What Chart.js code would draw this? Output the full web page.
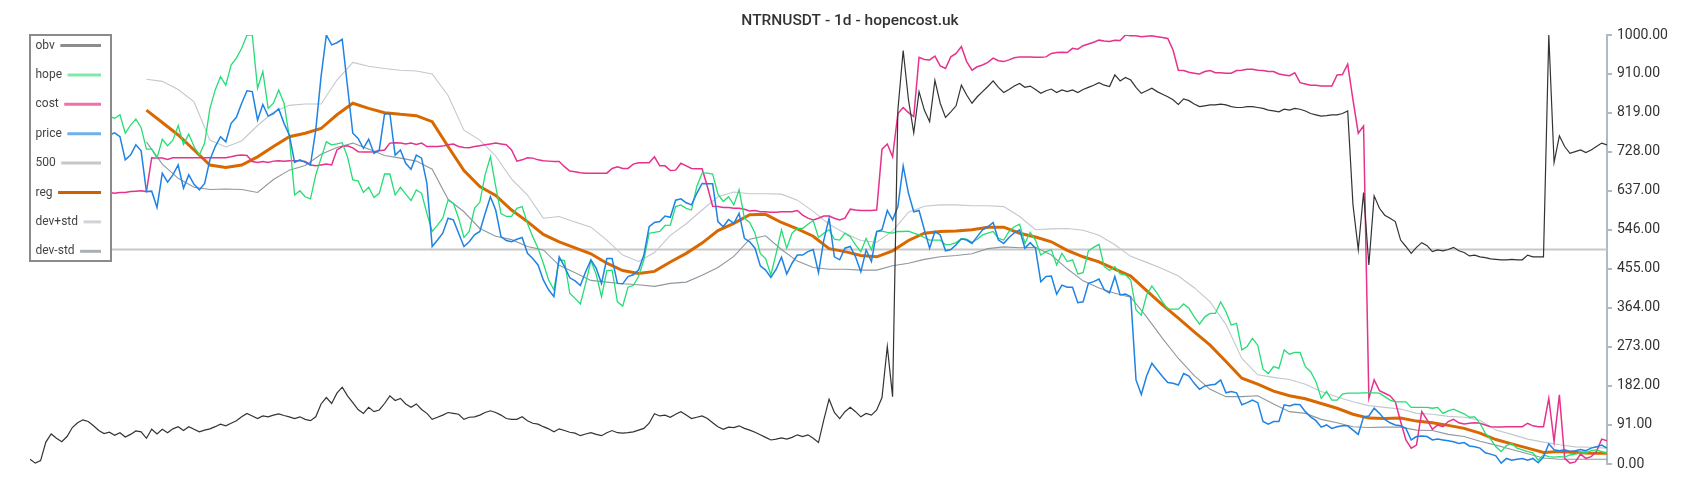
<!DOCTYPE html>
<html>
<head>
<meta charset="utf-8">
<title>NTRNUSDT - 1d</title>
<script src="https://cdn.jsdelivr.net/npm/chart.js@4.4.0/dist/chart.umd.min.js"></script>
<style>
  html, body { margin: 0; padding: 0; background: #ffffff; }
  #wrap { width: 1700px; height: 500px; }
</style>
</head>
<body>
<div id="wrap"><canvas id="mainChart" width="1700" height="500"></canvas></div>
<script>
// Daily values, one entry per day (index = day)
const obv = [
  11,2,8,51,70,60,52,64,85,96,103,99,89,78,71,74,67,73,63,69,77,75,60,81,70,81,73,82,87,78,87,81,75,79,82,87,93,
  89,95,101,110,118,112,106,112,110,114,117,113,110,106,110,104,101,110,140,155,141,165,179,159,143,127,118,132,122,126,141,159,148,153,140,132,140,
  127,118,104,109,114,120,118,116,104,109,110,114,120,124,120,114,106,104,104,110,101,95,93,87,82,75,82,78,74,72,66,70,73,69,66,73,78,73,
  72,73,75,79,83,95,117,112,114,109,116,122,114,106,109,112,106,96,87,81,86,85,89,83,79,74,68,62,56,58,61,58,62,68,
  64,68,60,50,103,151,120,106,122,132,122,110,118,114,126,155,274,157,825,964,849,772,868,825,798,894,841,808,821,835,883,860,841,856,868,880,893,878,866,873,881,887,
  878,881,873,864,870,874,866,872,868,872,866,873,878,883,889,883,880,907,893,901,895,878,864,870,876,868,862,856,849,838,851,847,839,833,835,837,837,839,
  837,833,831,831,833,833,831,829,825,823,821,827,825,829,827,823,817,814,811,812,814,814,817,823,604,500,633,464,625,596,580,573,565,522,507,491,505,516,
  509,495,499,497,500,505,497,493,485,487,483,481,478,477,476,476,477,476,476,487,483,483,483,1000,703,765,740,724,728,732,726,732,740,748,744
];

const hope = [
  null,null,null,null,null,null,null,null,null,null,null,null,null,null,null,
  810,806,814,771,790,804,784,734,734,713,757,742,755,789,745,769,740,720,748,829,872,903,
  883,930,946,969,1000,1000,876,915,829,841,872,841,763,627,637,623,618,674,713,751,744,746,749,716,662,660,633,645,621,631,676,676,627,645,629,614,639,
  631,584,542,557,573,615,608,573,528,542,596,610,674,716,647,584,577,577,596,600,561,530,503,468,429,406,476,474,398,386,373,421,474,441,390,451,452,378,
  368,412,416,437,476,538,540,542,556,557,600,604,596,592,647,678,678,676,629,612,623,604,639,573,563,538,491,479,441,491,546,503,538,549,
  549,559,567,528,538,546,524,522,538,530,511,495,526,499,542,543,540,538,542,542,543,538,534,528,522,522,522,511,512,516,525,524,517,524,534,538,542,526,522,542,553,559,
  514,540,522,487,495,500,464,491,472,476,443,446,497,505,512,460,451,460,443,441,429,359,347,394,415,398,378,361,361,361,373,363,343,326,343,351,351,378,
  355,324,328,266,274,293,277,221,211,227,223,266,256,260,260,227,215,192,153,169,149,149,163,165,165,165,166,166,166,165,157,149,145,145,145,132,132,132,
  132,130,132,118,124,128,122,117,109,110,95,72,58,40,29,43,48,37,33,29,26,9,21,17,16,17,16,21,23,26,26,31,33,29,25
];

const cost = [
  null,null,null,null,null,null,null,null,null,null,null,null,null,null,null,
  633,631,633,633,635,636,637,635,714,713,713,710,714,714,714,714,714,714,714,714,714,714,
  714,716,719,720,719,705,703,705,703,706,707,706,707,707,707,705,697,695,697,699,697,732,740,742,737,728,727,727,728,730,732,748,749,748,746,748,745,
  748,740,740,740,741,744,746,740,738,737,740,742,744,746,748,746,744,732,706,709,714,713,709,707,706,705,705,693,683,681,679,678,678,678,678,678,689,693,
  689,689,699,702,702,702,716,695,695,684,685,701,695,689,688,688,647,601,600,598,598,596,596,594,590,591,588,588,587,587,588,588,588,591,580,573,569,573,
  578,578,573,569,573,594,592,591,591,591,592,734,746,716,817,831,819,810,948,943,942,951,928,922,949,957,973,938,918,926,930,936,946,940,938,942,947,949,
  949,949,948,948,949,957,959,960,959,969,967,975,979,983,988,986,985,988,987,1000,998,998,996,997,998,996,994,992,965,918,917,913,911,909,915,917,912,912,
  911,911,917,918,920,920,918,917,915,915,909,907,905,912,889,886,883,883,881,881,881,907,908,932,849,771,788,153,196,171,165,159,145,99,56,37,44,122,
  103,81,91,87,99,104,96,93,95,96,95,91,87,86,86,87,87,87,87,95,89,87,87,153,52,161,13,2,5,23,13,17,29,58,54
];

const price = [
  null,null,null,null,null,null,null,null,null,null,null,null,null,null,null,
  767,772,763,709,720,744,730,635,636,598,678,657,674,697,643,674,652,639,654,709,740,763,
  751,794,808,841,870,868,802,838,811,817,828,794,767,703,709,703,697,779,903,1000,977,982,990,880,771,759,736,757,724,732,816,817,720,732,701,687,720,
  713,654,507,522,538,573,569,538,507,518,534,542,584,623,592,530,521,518,524,528,491,479,464,429,406,390,483,460,434,427,416,448,476,456,421,479,479,421,
  420,437,441,452,487,553,563,565,578,575,615,618,609,604,631,654,653,653,565,553,570,561,584,526,518,503,462,452,435,454,482,443,468,487,
  487,495,500,446,522,573,483,476,503,507,483,448,499,472,542,546,591,569,600,695,631,588,591,546,503,542,534,497,500,511,525,522,514,530,546,553,563,522,514,528,539,546,
  503,516,503,425,437,438,396,417,412,412,376,378,421,425,431,406,399,437,394,396,390,196,162,205,235,219,204,190,188,184,211,205,188,174,182,184,186,196,
  166,169,166,138,143,149,143,99,93,99,99,138,135,139,138,122,110,101,86,91,83,87,89,89,79,69,110,112,130,118,104,96,91,89,83,56,64,65,
  64,56,58,56,54,52,48,50,42,40,37,26,23,19,2,13,9,11,13,9,13,3,16,47,33,31,33,29,31,34,31,37,40,44,37
];

const LEVEL = 500;

// Rolling series, read every 3rd day starting at day 22
const SMOOTH_START = 22;
const SMOOTH_STEP = 3;

const reg = [
  825,796,767,732,697,
  691,697,716,740,763,771,782,814,841,829,819,815,812,
  798,740,684,647,626,592,565,535,518,504,490,468,
  451,444,449,471,491,515,544,561,581,582,563,548,531,
  502,495,486,483,497,521,538,542,543,546,552,552,538,
  529,518,498,483,471,454,438,404,371,340,308,277,
  239,200,186,170,159,152,141,130,116,107,106,107,100,
  96,90,83,72,57,47,37,27,29,27,25,25
];

const devUp = [
  897,892,873,844,755,
  739,753,789,820,836,839,839,895,936,927,922,918,916,
  909,859,778,755,718,664,627,573,577,564,552,522,
  487,472,493,533,560,592,623,634,630,630,629,615,589,
  559,538,521,517,543,587,601,604,604,602,602,600,577,
  546,548,549,545,533,511,484,470,455,438,411,378,
  325,246,208,202,197,186,169,156,145,136,132,128,118,
  116,111,109,102,79,69,58,51,45,40,39,37
];

const devDown = [
  751,699,666,645,640,
  641,640,633,663,685,696,722,738,748,734,719,713,706,
  687,617,588,549,531,523,507,499,463,446,428,424,
  420,418,414,421,424,440,458,484,524,532,500,473,458,
  454,454,452,452,462,468,477,483,486,490,502,506,504,
  505,487,455,427,410,398,389,343,293,246,206,174,
  157,157,159,140,122,118,104,96,87,85,86,86,79,
  78,69,64,53,44,34,24,14,11,11,11,11
];

const TITLE = "NTRNUSDT - 1d - hopencost.uk";
const Y_TICKS = [0, 91, 182, 273, 364, 455, 546, 637, 728, 819, 910, 1000];

const lastDay = obv.length - 1;

function daily(arr) {
  return arr.map((v, i) => ({ x: i, y: v }));
}

function sampled(arr) {
  return arr.map((v, k) => ({ x: SMOOTH_START + k * SMOOTH_STEP, y: v }));
}

// legend box + title, drawn on top of the lines
const overlayPlugin = {
  id: "overlay",
  afterDatasetsDraw(chart) {
    const { ctx, chartArea } = chart;
    const x0 = chartArea.left;
    const y0 = chartArea.top;
    const boxW = 81;
    const boxH = 226;

    ctx.save();
    ctx.fillStyle = "#ffffff";
    ctx.fillRect(x0, y0, boxW, boxH);
    ctx.strokeStyle = "#8a8a8a";
    ctx.lineWidth = 2;
    ctx.strokeRect(x0, y0, boxW, boxH);

    ctx.font = "12px Roboto";
    ctx.textBaseline = "middle";
    ctx.textAlign = "left";

    chart.data.datasets.forEach((ds, k) => {
      const y = y0 + 10.5 + k * 29.4;
      ctx.fillStyle = "#444444";
      ctx.fillText(ds.label, x0 + 5.5, y);
      const textEnd = x0 + 5.5 + ctx.measureText(ds.label).width;
      ctx.strokeStyle = ds.legendColor;
      ctx.lineWidth = 3;
      ctx.beginPath();
      ctx.moveTo(textEnd + 5.5, y);
      ctx.lineTo(x0 + 71, y);
      ctx.stroke();
    });
    ctx.restore();
  },
  afterDraw(chart) {
    const { ctx } = chart;
    ctx.save();
    ctx.font = "500 15.5px Roboto";
    ctx.fillStyle = "#333333";
    ctx.textAlign = "center";
    ctx.textBaseline = "middle";
    ctx.fillText(TITLE, chart.width / 2, 21);
    ctx.restore();
  },
};

const ctx = document.getElementById("mainChart");

new Chart(ctx, {
  type: "line",
  data: {
    datasets: [
      {
        label: "obv",
        data: daily(obv),
        borderColor: "#333333",
        legendColor: "#8c8c8c",
        borderWidth: 1.2,
        order: 1,
      },
      {
        label: "hope",
        data: daily(hope),
        borderColor: "#25dd75",
        legendColor: "#80e8aa",
        borderWidth: 1.3,
        order: 3,
      },
      {
        label: "cost",
        data: daily(cost),
        borderColor: "#e7318c",
        legendColor: "#ee72ac",
        borderWidth: 1.5,
        order: 4,
      },
      {
        label: "price",
        data: daily(price),
        borderColor: "#1f83e3",
        legendColor: "#6eb0ec",
        borderWidth: 1.5,
        order: 2,
      },
      {
        label: "500",
        data: obv.map((_, i) => ({ x: i, y: LEVEL })),
        borderColor: "#c8c8c8",
        legendColor: "#c8c8c8",
        borderWidth: 2,
        order: 8,
      },
      {
        label: "reg",
        data: sampled(reg),
        borderColor: "#d96800",
        legendColor: "#d06000",
        borderWidth: 3,
        order: 5,
      },
      {
        label: "dev+std",
        data: sampled(devUp),
        borderColor: "#c2c8ce",
        legendColor: "#d0d4d8",
        borderWidth: 1.1,
        order: 6,
      },
      {
        label: "dev-std",
        data: sampled(devDown),
        borderColor: "#8f979f",
        legendColor: "#a8b0b6",
        borderWidth: 1.1,
        order: 7,
      },
    ],
  },
  options: {
    responsive: false,
    animation: false,
    layout: {
      padding: { left: 30, right: 0, top: 35, bottom: 36 },
    },
    elements: {
      point: { radius: 0 },
      line: { tension: 0, fill: false },
    },
    plugins: {
      legend: { display: false },
      tooltip: { enabled: false },
      title: { display: false },
    },
    scales: {
      x: {
        type: "linear",
        display: false,
        min: 0,
        max: lastDay,
      },
      y: {
        position: "right",
        min: Y_TICKS[0],
        max: Y_TICKS[Y_TICKS.length - 1],
        afterBuildTicks: function (scale) {
          scale.ticks = Y_TICKS.map((v) => ({ value: v }));
        },
        ticks: {
          padding: 5,
          color: "#333333",
          font: { family: "Roboto", size: 14 },
          callback: function (value) {
            return value.toFixed(2);
          },
        },
        grid: {
          drawOnChartArea: false,
          drawTicks: true,
          tickLength: 5,
          color: "#b0bac1",
          lineWidth: 2,
        },
        border: { display: true, color: "#b0bac1", width: 2 },
        afterFit: function (scale) {
          scale.width = 93;
        },
      },
    },
  },
  plugins: [overlayPlugin],
});
</script>
</body>
</html>
